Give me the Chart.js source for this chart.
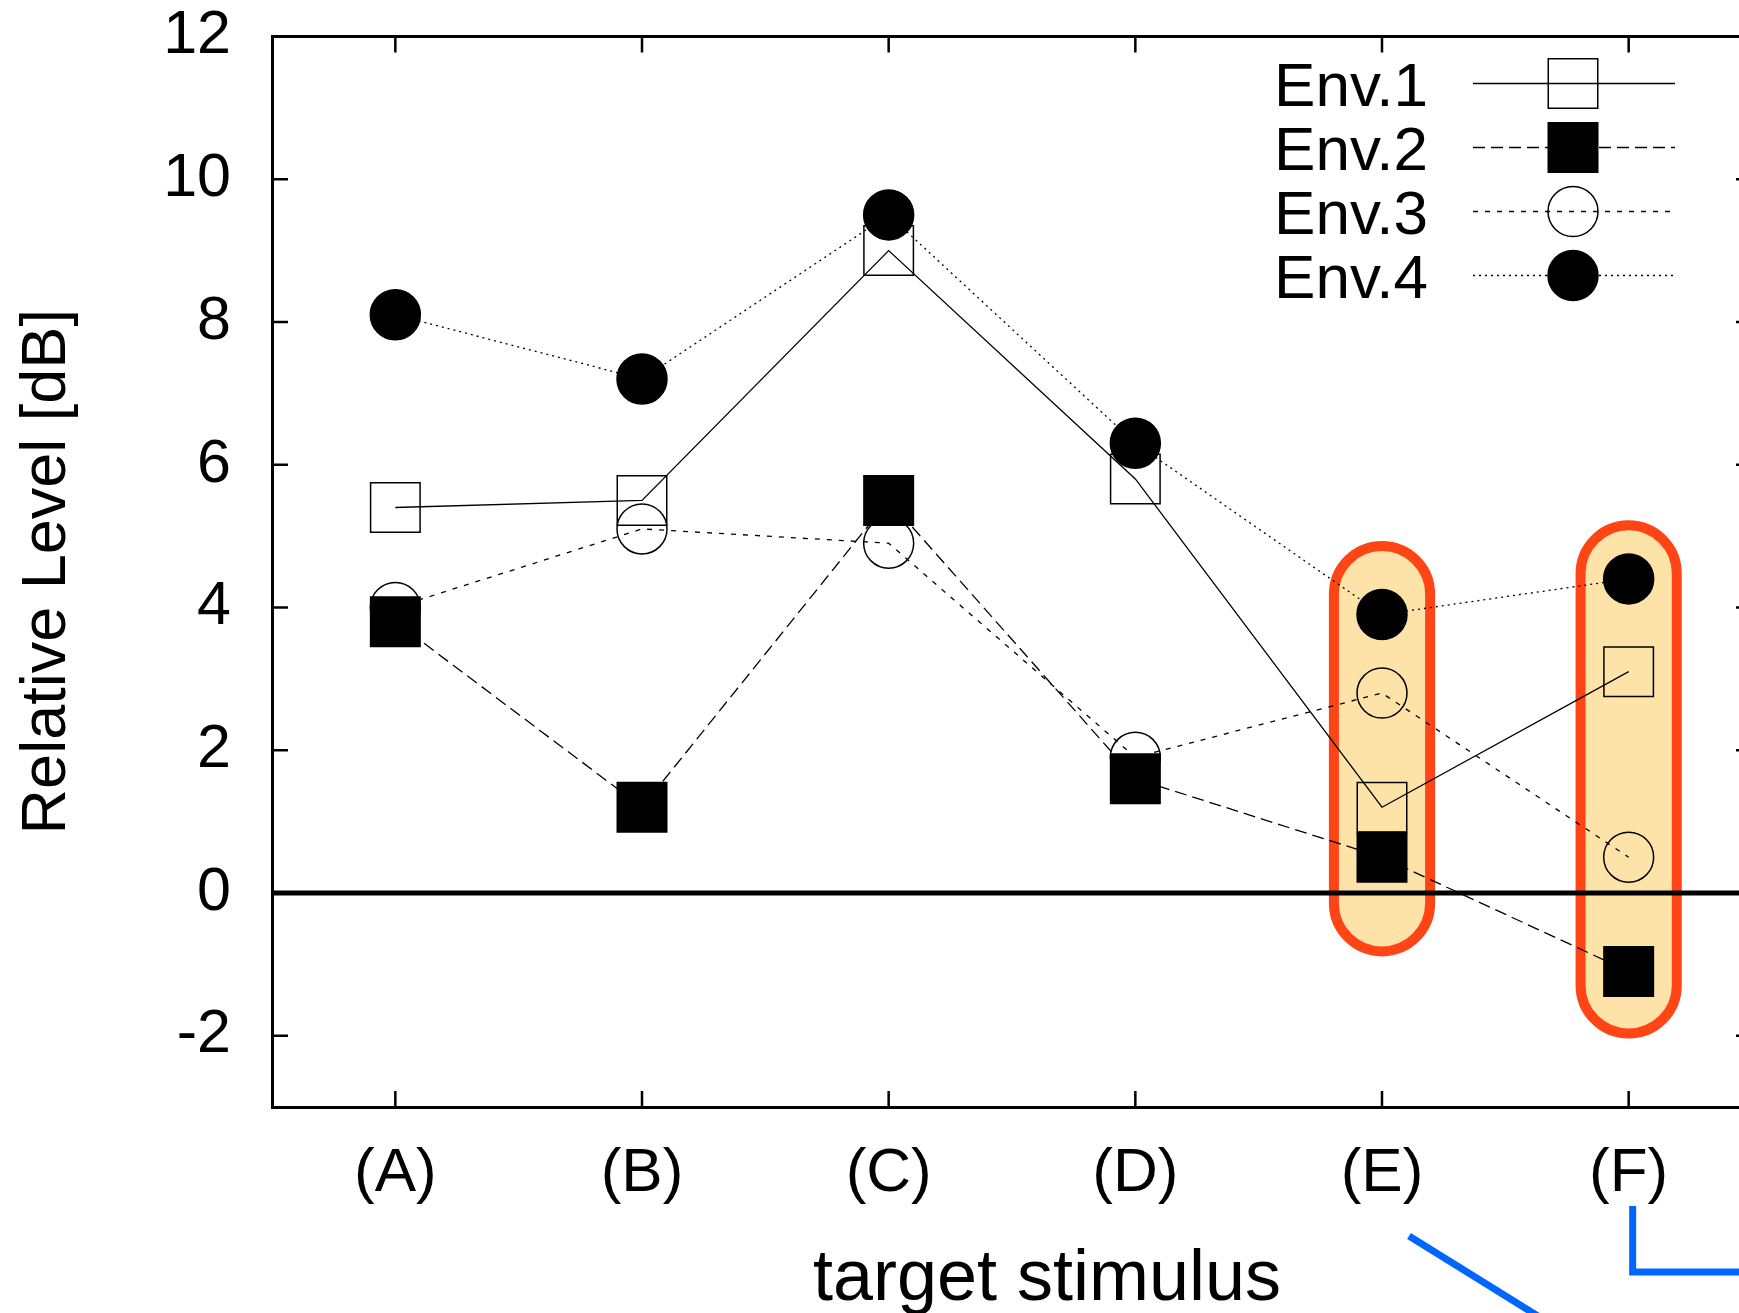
<!DOCTYPE html>
<html>
<head>
<meta charset="utf-8">
<script src="https://cdn.jsdelivr.net/npm/chart.js@4.4.1/dist/chart.umd.min.js"></script>
<style>
  html, body { margin: 0; padding: 0; background: #fff; overflow: hidden; }
  #wrap { position: relative; width: 1790px; height: 1313px; }
</style>
</head>
<body>
<div id="wrap"><canvas id="chart" width="1790" height="1313"></canvas></div>
<script>
// values (dB)
const categories = ['(A)', '(B)', '(C)', '(D)', '(E)', '(F)'];
const env1 = [5.4, 5.5, 9.0, 5.8, 1.2, 3.1];
const env2 = [3.8, 1.2, 5.5, 1.6, 0.5, -1.1];
const env3 = [4.0, 5.1, 4.9, 1.9, 2.8, 0.5];
const env4 = [8.1, 7.2, 9.5, 6.3, 3.9, 4.4];
const yTicks = [-2, 0, 2, 4, 6, 8, 10, 12];

// highlighted stimuli, box extent in dB
const highlightCats = ['(E)', '(F)'];
const highlightTop = [4.86, 5.15];
const highlightBottom = [-0.82, -1.97];

const FONT = "'Liberation Sans', Helvetica, Arial, sans-serif";

function makeSeries(label, values, dash, style, filled) {
  return {
    label: label,
    data: values,
    borderColor: '#000',
    borderWidth: 1.3,
    borderDash: dash,
    fill: false,
    tension: 0,
    pointStyle: style,
    pointRadius: style === 'rect' ? 35 : 25,
    pointHoverRadius: style === 'rect' ? 35 : 25,
    pointBorderWidth: 1.5,
    pointBorderColor: '#000',
    pointBackgroundColor: filled ? '#000' : 'rgba(0,0,0,0)'
  };
}

// gnuplot draws Env.4 last, so it sits on top
const datasets = [
  makeSeries('Env.1', env1, [], 'rect', false),
  makeSeries('Env.2', env2, [12, 6], 'rect', true),
  makeSeries('Env.3', env3, [5, 7], 'circle', false),
  makeSeries('Env.4', env4, [2, 4], 'circle', true)
];
datasets.forEach((d, i) => { d.order = datasets.length - i; });

function drawMarker(ctx, ds, px, py) {
  ctx.beginPath();
  if (ds.pointStyle === 'rect') {
    const h = ds.pointRadius * Math.SQRT1_2;
    ctx.rect(px - h, py - h, 2 * h, 2 * h);
  } else {
    ctx.arc(px, py, ds.pointRadius, 0, Math.PI * 2);
  }
  ctx.fillStyle = ds.pointBackgroundColor;
  ctx.fill();
  ctx.lineWidth = ds.pointBorderWidth;
  ctx.strokeStyle = '#000';
  ctx.stroke();
}

const decorPlugin = {
  id: 'decor',
  beforeDatasetsDraw(chart) {
    const { ctx, chartArea: a, scales: { x, y } } = chart;
    const step = x.getPixelForValue(1) - x.getPixelForValue(0);
    ctx.save();
    // orange boxes round (E) and (F)
    highlightCats.forEach((cat, i) => {
      const cx = x.getPixelForValue(categories.indexOf(cat));
      const hw = step * 0.195;
      const top = y.getPixelForValue(highlightTop[i]);
      const bot = y.getPixelForValue(highlightBottom[i]);
      ctx.beginPath();
      ctx.roundRect(cx - hw, top, hw * 2, bot - top, hw);
      ctx.fillStyle = '#fde3a8';
      ctx.fill();
      ctx.lineWidth = 10;
      ctx.strokeStyle = '#ff4516';
      ctx.stroke();
    });
    // 0 dB reference line
    const y0 = y.getPixelForValue(0);
    ctx.beginPath();
    ctx.moveTo(a.left, y0);
    ctx.lineTo(a.right, y0);
    ctx.lineWidth = 5;
    ctx.strokeStyle = '#000';
    ctx.stroke();
    ctx.restore();
  },
  afterDatasetsDraw(chart) {
    const { ctx, chartArea: a, scales: { x, y } } = chart;
    ctx.save();
    ctx.strokeStyle = '#000';
    ctx.lineWidth = 3;
    // top and right border
    ctx.beginPath();
    ctx.moveTo(a.left, a.top);
    ctx.lineTo(a.right, a.top);
    ctx.lineTo(a.right, a.bottom);
    ctx.stroke();
    // inward ticks, mirrored like gnuplot
    const tl = 16;
    ctx.lineWidth = 2.5;
    ctx.beginPath();
    yTicks.forEach(v => {
      const py = y.getPixelForValue(v);
      ctx.moveTo(a.left, py); ctx.lineTo(a.left + tl, py);
      ctx.moveTo(a.right, py); ctx.lineTo(a.right - tl, py);
    });
    categories.forEach((c, i) => {
      const px = x.getPixelForValue(i);
      ctx.moveTo(px, a.bottom); ctx.lineTo(px, a.bottom - tl);
      ctx.moveTo(px, a.top); ctx.lineTo(px, a.top + tl);
    });
    ctx.stroke();

    // key, text on the left of the sample
    const keyText = 1428, lineL = 1473, lineR = 1675, mark = 1573;
    chart.data.datasets.forEach((ds, i) => {
      const ry = a.top + 47 + i * 64;
      ctx.font = '62px ' + FONT;
      ctx.fillStyle = '#000';
      ctx.textAlign = 'right';
      ctx.textBaseline = 'alphabetic';
      ctx.fillText(ds.label, keyText, ry + 22);
      ctx.beginPath();
      ctx.setLineDash(ds.borderDash);
      ctx.lineWidth = ds.borderWidth;
      ctx.moveTo(lineL, ry);
      ctx.lineTo(lineR, ry);
      ctx.stroke();
      ctx.setLineDash([]);
      drawMarker(ctx, ds, mark, ry);
    });
    ctx.restore();
  },
  afterDraw(chart) {
    const { ctx, scales: { x } } = chart;
    ctx.save();
    // x axis label (sits a bit right of centre in the source)
    ctx.font = '72px ' + FONT;
    ctx.fillStyle = '#000';
    ctx.textAlign = 'center';
    ctx.textBaseline = 'alphabetic';
    ctx.fillText('target stimulus', 1047, 1300);

    // blue call-out lines under (E) and (F)
    const xE = x.getPixelForValue(4), xF = x.getPixelForValue(5);
    ctx.strokeStyle = '#0066ff';
    ctx.lineWidth = 7;
    ctx.beginPath();
    ctx.moveTo(xE + 27, 1236);
    ctx.lineTo(xE + 180, 1331);
    ctx.stroke();
    ctx.beginPath();
    ctx.moveTo(xF + 4, 1206);
    ctx.lineTo(xF + 4, 1272);
    ctx.lineTo(chart.width, 1272);
    ctx.stroke();
    ctx.restore();
  }
};

new Chart(document.getElementById('chart'), {
  type: 'line',
  data: { labels: categories, datasets: datasets },
  options: {
    responsive: false,
    animation: false,
    events: [],
    layout: { padding: { top: 34, right: 38, left: 0, bottom: 0 } },
    plugins: {
      legend: { display: false },
      tooltip: { enabled: false }
    },
    scales: {
      x: {
        type: 'category',
        offset: true,
        grid: { display: false, drawTicks: false },
        border: { display: true, color: '#000', width: 3 },
        ticks: {
          color: '#000',
          font: { family: FONT, size: 62 },
          padding: 30,
          autoSkip: false,
          maxRotation: 0
        },
        afterFit(s) { s.height = 206; s.paddingLeft = 0; s.paddingRight = 0; }
      },
      y: {
        min: -3,
        max: 12,
        afterBuildTicks(s) { s.ticks = yTicks.map(v => ({ value: v })); },
        grid: { display: false, drawTicks: false },
        border: { display: true, color: '#000', width: 3 },
        ticks: {
          color: '#000',
          font: { family: FONT, size: 61 },
          padding: 41
        },
        title: {
          display: true,
          text: 'Relative Level [dB]',
          color: '#000',
          font: { family: FONT, size: 63 },
          padding: { top: 10, bottom: 0 }
        },
        afterFit(s) { s.width = 272; s.paddingTop = 0; s.paddingBottom = 0; }
      }
    }
  },
  plugins: [decorPlugin]
});
</script>
</body>
</html>
